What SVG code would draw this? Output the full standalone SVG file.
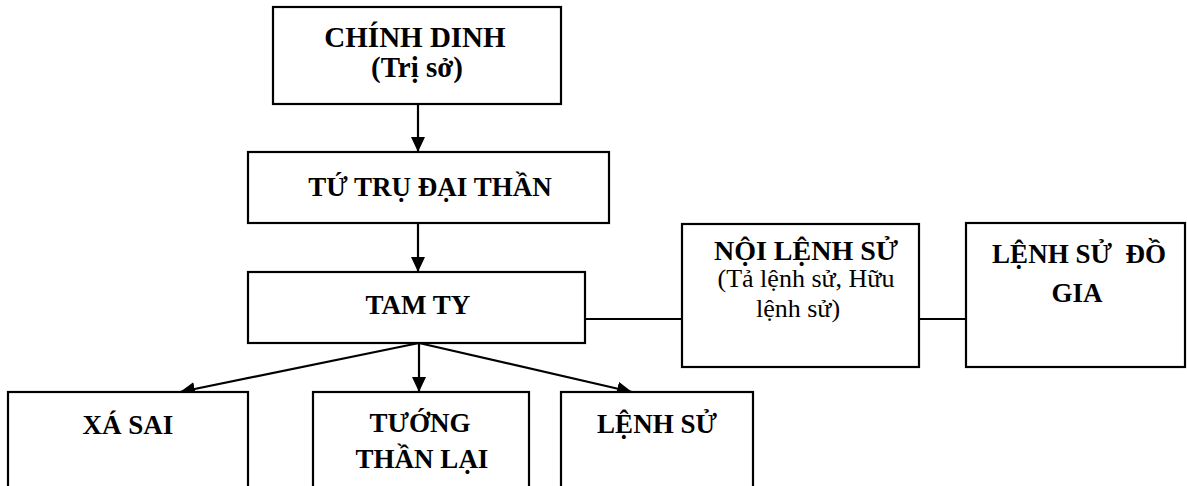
<svg xmlns="http://www.w3.org/2000/svg" width="1187" height="486" viewBox="0 0 1187 486">
  <style>
    .box { fill: #ffffff; stroke: #000000; stroke-width: 2.2; }
    .lbl { font-family: "Liberation Serif", "Times New Roman", serif; font-weight: bold; font-size: 27px; fill: #000000; text-anchor: middle; }
    .big { font-size: 29px; }
    .mid { font-size: 28px; }
    .reg { font-family: "Liberation Serif", "Times New Roman", serif; font-weight: normal; font-size: 26px; fill: #000000; text-anchor: middle; }
    .edge { stroke: #000000; stroke-width: 2.2; fill: none; }
    .arrow { marker-end: url(#head); }
  </style>
  <defs>
    <marker id="head" markerUnits="userSpaceOnUse" markerWidth="16" markerHeight="14" refX="15" refY="7" orient="auto">
      <path d="M0,0 L15,7 L0,14 Z" fill="#000000"/>
    </marker>
  </defs>

  <rect width="1187" height="486" fill="#ffffff"/>

  <!-- connectors -->
  <g id="connectors">
    <line class="edge arrow" x1="418" y1="104" x2="418" y2="152"/>
    <line class="edge arrow" x1="418" y1="223" x2="418" y2="272"/>
    <line class="edge arrow" x1="419" y1="343" x2="180" y2="392"/>
    <line class="edge arrow" x1="419" y1="343" x2="419" y2="392"/>
    <line class="edge arrow" x1="419" y1="343" x2="632" y2="392"/>
    <line class="edge" x1="585" y1="319" x2="682" y2="319"/>
    <line class="edge" x1="919" y1="319" x2="966" y2="319"/>
  </g>

  <!-- top: seat of government -->
  <g id="chinh-dinh">
    <rect class="box" x="273" y="7" width="288" height="97"/>
    <text class="lbl big" x="415" y="47">CHÍNH DINH</text>
    <text class="lbl big" x="417" y="77">(Trị sở)</text>
  </g>

  <g id="tu-tru">
    <rect class="box" x="248" y="152" width="361" height="71"/>
    <text class="lbl" x="430" y="196">TỨ TRỤ ĐẠI THẦN</text>
  </g>

  <g id="tam-ty">
    <rect class="box" x="248" y="272" width="337" height="71"/>
    <text class="lbl" x="418" y="314">TAM TY</text>
  </g>

  <g id="noi-lenh-su">
    <rect class="box" x="682" y="224" width="237" height="143"/>
    <text class="lbl mid" x="806" y="260">NỘI LỆNH SỬ</text>
    <text class="reg" x="806" y="287">(Tả lệnh sử, Hữu</text>
    <text class="reg" x="798" y="317">lệnh sử)</text>
  </g>

  <g id="lenh-su-do-gia">
    <rect class="box" x="966" y="223" width="219" height="144"/>
    <text class="lbl" x="1079" y="263" style="white-space: pre">LỆNH SỬ  ĐỒ</text>
    <text class="lbl" x="1077" y="302">GIA</text>
  </g>

  <!-- bottom row, boxes run past the lower edge -->
  <g id="xa-sai">
    <rect class="box" x="8" y="392" width="240" height="110"/>
    <text class="lbl" x="128" y="434">XÁ SAI</text>
  </g>

  <g id="tuong-than-lai">
    <rect class="box" x="313" y="392" width="216" height="110"/>
    <text class="lbl" x="420" y="432">TƯỚNG</text>
    <text class="lbl" x="422" y="468">THẦN LẠI</text>
  </g>

  <g id="lenh-su">
    <rect class="box" x="561" y="392" width="192" height="110"/>
    <text class="lbl" x="657" y="433">LỆNH SỬ</text>
  </g>
</svg>
